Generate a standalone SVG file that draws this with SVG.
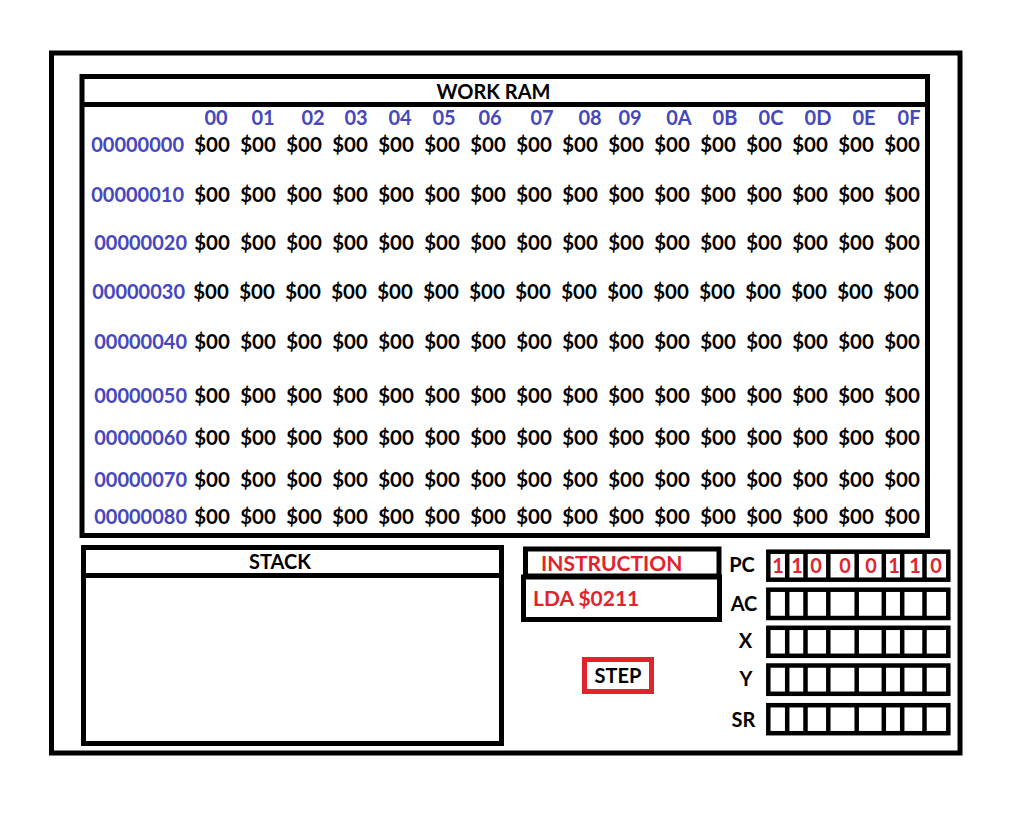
<svg xmlns="http://www.w3.org/2000/svg" width="1020" height="816" viewBox="0 0 1020 816">
<style>
.box{fill:#fff;stroke:#000;stroke-width:5}
.ln{stroke:#000;stroke-width:5}
.reg{fill:#fff;stroke:#000;stroke-width:4.5}
.dv{stroke:#000;stroke-width:4.5}
text{font-family:Lato,"Open Sans","Liberation Sans",sans-serif;font-weight:700;font-size:20px}
.k{fill:#000}
.b{fill:#4646BE}
.r{fill:#E1232D}
.m{text-anchor:middle}
.e{text-anchor:end}
.d text{text-anchor:middle;fill:#000;font-size:20.5px}
.big{font-size:21px}
</style>
<rect width="1020" height="816" fill="#fff"/>
<g id="frame"><rect class="box" x="51.5" y="53" width="908.5" height="700"/></g>
<g id="work-ram">
<rect class="box" x="82" y="76.5" width="845.5" height="459"/>
<line class="ln" x1="82" y1="104.5" x2="927.5" y2="104.5"/>
<text class="k m" x="493.5" y="99">WORK RAM</text>
<g class="b m">
<text x="216" y="125">00</text><text x="263" y="125">01</text><text x="313" y="125">02</text><text x="356" y="125">03</text>
<text x="400" y="125">04</text><text x="444" y="125">05</text><text x="490" y="125">06</text><text x="542" y="125">07</text>
<text x="590" y="125">08</text><text x="630" y="125">09</text><text x="679" y="125">0A</text><text x="725" y="125">0B</text>
<text x="771" y="125">0C</text><text x="818" y="125">0D</text><text x="864" y="125">0E</text><text x="909" y="125">0F</text>
</g>
<g class="b e">
<text x="184" y="152">00000000</text>
<text x="184" y="202">00000010</text>
<text x="187" y="250">00000020</text>
<text x="185" y="299">00000030</text>
<text x="187" y="349">00000040</text>
<text x="187" y="403">00000050</text>
<text x="187" y="445">00000060</text>
<text x="187" y="487">00000070</text>
<text x="187" y="524">00000080</text>
</g>
<g class="d">
<text x="212" y="152">$00</text><text x="258" y="152">$00</text><text x="304" y="152">$00</text><text x="350" y="152">$00</text><text x="396" y="152">$00</text><text x="442" y="152">$00</text><text x="488" y="152">$00</text><text x="534" y="152">$00</text><text x="580" y="152">$00</text><text x="626" y="152">$00</text><text x="672" y="152">$00</text><text x="718" y="152">$00</text><text x="764" y="152">$00</text><text x="810" y="152">$00</text><text x="856" y="152">$00</text><text x="902" y="152">$00</text>
<text x="212" y="202">$00</text><text x="258" y="202">$00</text><text x="304" y="202">$00</text><text x="350" y="202">$00</text><text x="396" y="202">$00</text><text x="442" y="202">$00</text><text x="488" y="202">$00</text><text x="534" y="202">$00</text><text x="580" y="202">$00</text><text x="626" y="202">$00</text><text x="672" y="202">$00</text><text x="718" y="202">$00</text><text x="764" y="202">$00</text><text x="810" y="202">$00</text><text x="856" y="202">$00</text><text x="902" y="202">$00</text>
<text x="212" y="250">$00</text><text x="258" y="250">$00</text><text x="304" y="250">$00</text><text x="350" y="250">$00</text><text x="396" y="250">$00</text><text x="442" y="250">$00</text><text x="488" y="250">$00</text><text x="534" y="250">$00</text><text x="580" y="250">$00</text><text x="626" y="250">$00</text><text x="672" y="250">$00</text><text x="718" y="250">$00</text><text x="764" y="250">$00</text><text x="810" y="250">$00</text><text x="856" y="250">$00</text><text x="902" y="250">$00</text>
<text x="211" y="299">$00</text><text x="257" y="299">$00</text><text x="303" y="299">$00</text><text x="349" y="299">$00</text><text x="395" y="299">$00</text><text x="441" y="299">$00</text><text x="487" y="299">$00</text><text x="533" y="299">$00</text><text x="579" y="299">$00</text><text x="625" y="299">$00</text><text x="671" y="299">$00</text><text x="717" y="299">$00</text><text x="763" y="299">$00</text><text x="809" y="299">$00</text><text x="855" y="299">$00</text><text x="901" y="299">$00</text>
<text x="212" y="349">$00</text><text x="258" y="349">$00</text><text x="304" y="349">$00</text><text x="350" y="349">$00</text><text x="396" y="349">$00</text><text x="442" y="349">$00</text><text x="488" y="349">$00</text><text x="534" y="349">$00</text><text x="580" y="349">$00</text><text x="626" y="349">$00</text><text x="672" y="349">$00</text><text x="718" y="349">$00</text><text x="764" y="349">$00</text><text x="810" y="349">$00</text><text x="856" y="349">$00</text><text x="902" y="349">$00</text>
<text x="212" y="403">$00</text><text x="258" y="403">$00</text><text x="304" y="403">$00</text><text x="350" y="403">$00</text><text x="396" y="403">$00</text><text x="442" y="403">$00</text><text x="488" y="403">$00</text><text x="534" y="403">$00</text><text x="580" y="403">$00</text><text x="626" y="403">$00</text><text x="672" y="403">$00</text><text x="718" y="403">$00</text><text x="764" y="403">$00</text><text x="810" y="403">$00</text><text x="856" y="403">$00</text><text x="902" y="403">$00</text>
<text x="212" y="445">$00</text><text x="258" y="445">$00</text><text x="304" y="445">$00</text><text x="350" y="445">$00</text><text x="396" y="445">$00</text><text x="442" y="445">$00</text><text x="488" y="445">$00</text><text x="534" y="445">$00</text><text x="580" y="445">$00</text><text x="626" y="445">$00</text><text x="672" y="445">$00</text><text x="718" y="445">$00</text><text x="764" y="445">$00</text><text x="810" y="445">$00</text><text x="856" y="445">$00</text><text x="902" y="445">$00</text>
<text x="212" y="487">$00</text><text x="258" y="487">$00</text><text x="304" y="487">$00</text><text x="350" y="487">$00</text><text x="396" y="487">$00</text><text x="442" y="487">$00</text><text x="488" y="487">$00</text><text x="534" y="487">$00</text><text x="580" y="487">$00</text><text x="626" y="487">$00</text><text x="672" y="487">$00</text><text x="718" y="487">$00</text><text x="764" y="487">$00</text><text x="810" y="487">$00</text><text x="856" y="487">$00</text><text x="902" y="487">$00</text>
<text x="212" y="524">$00</text><text x="258" y="524">$00</text><text x="304" y="524">$00</text><text x="350" y="524">$00</text><text x="396" y="524">$00</text><text x="442" y="524">$00</text><text x="488" y="524">$00</text><text x="534" y="524">$00</text><text x="580" y="524">$00</text><text x="626" y="524">$00</text><text x="672" y="524">$00</text><text x="718" y="524">$00</text><text x="764" y="524">$00</text><text x="810" y="524">$00</text><text x="856" y="524">$00</text><text x="902" y="524">$00</text>
</g>
</g>
<g id="stack">
<rect class="box" x="83.5" y="547.5" width="418" height="196"/>
<line class="ln" x1="83.5" y1="575.5" x2="501.5" y2="575.5"/>
<text class="k m" x="280" y="569">STACK</text>
</g>
<g id="instruction">
<rect class="box" x="525.5" y="549" width="193.5" height="27"/>
<rect class="box" x="523.5" y="577" width="196" height="42.5"/>
<text class="r big" x="541" y="571">INSTRUCTION</text>
<text class="r big" x="533" y="606">LDA $0211</text>
</g>
<g id="step">
<rect x="584.5" y="659.5" width="67" height="32" fill="#fff" stroke="#E1232D" stroke-width="5"/>
<text class="k m" x="618" y="683">STEP</text>
</g>
<defs>
<g id="cells">
<line class="dv" x1="787.2" y1="0" x2="787.2" y2="28"/>
<line class="dv" x1="805.5" y1="0" x2="805.5" y2="28"/>
<line class="dv" x1="828.3" y1="0" x2="828.3" y2="28"/>
<line class="dv" x1="856.7" y1="0" x2="856.7" y2="28"/>
<line class="dv" x1="883.8" y1="0" x2="883.8" y2="28"/>
<line class="dv" x1="902.2" y1="0" x2="902.2" y2="28"/>
<line class="dv" x1="924.5" y1="0" x2="924.5" y2="28"/>
</g>
</defs>
<g id="reg-pc">
<rect class="reg" x="768.3" y="551.7" width="180" height="28"/>
<use href="#cells" y="551.7"/>
<text class="k m" x="742" y="572">PC</text>
<g class="r m big">
<text x="778" y="573">1</text><text x="797" y="573">1</text><text x="816" y="573">0</text><text x="845" y="573">0</text>
<text x="871" y="573">0</text><text x="894" y="573">1</text><text x="915" y="573">1</text><text x="936" y="573">0</text>
</g>
</g>
<g id="reg-ac">
<rect class="reg" x="768.3" y="589.7" width="180" height="28.3"/>
<use href="#cells" y="589.7"/>
<text class="k m" x="744" y="611">AC</text>
</g>
<g id="reg-x">
<rect class="reg" x="768.3" y="627.8" width="180" height="28"/>
<use href="#cells" y="627.8"/>
<text class="k m" x="745.5" y="648">X</text>
</g>
<g id="reg-y">
<rect class="reg" x="768.3" y="665.5" width="180" height="28.3"/>
<use href="#cells" y="665.5"/>
<text class="k m" x="746" y="686">Y</text>
</g>
<g id="reg-sr">
<rect class="reg" x="768.3" y="705.2" width="180" height="28"/>
<use href="#cells" y="705.2"/>
<text class="k m" x="743.5" y="727">SR</text>
</g>
<g id="connectors"/>
</svg>
